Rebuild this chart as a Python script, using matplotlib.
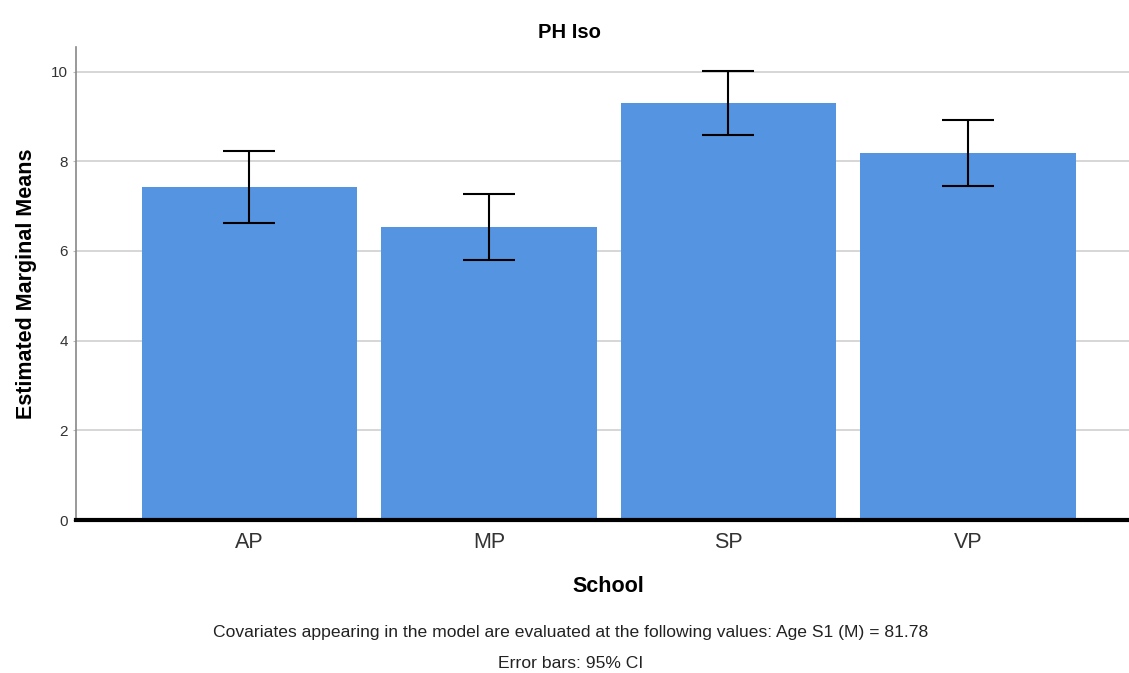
import matplotlib
matplotlib.use("Agg")
import matplotlib.pyplot as plt
from matplotlib import font_manager

categories = ["AP", "MP", "SP", "VP"]
means = [7.42, 6.53, 9.30, 8.19]
ci_upper = [8.23, 7.27, 10.01, 8.93]
ci_lower = [6.62, 5.80, 8.58, 7.46]
yticks = [0, 2, 4, 6, 8, 10]

plt.rcParams['font.family'] = ['Liberation Sans', 'DejaVu Sans']
names = {f.name for f in font_manager.fontManager.ttflist}
if 'Liberation Sans Narrow' in names:
    note_family = ['Liberation Sans Narrow', 'DejaVu Sans']
    note_size = 15
else:
    note_family = ['Liberation Sans', 'DejaVu Sans']
    note_size = 12.6

fig = plt.figure(figsize=(11.29, 6.73), dpi=100)
ax = fig.add_axes([76/1129, 1 - 520/673, 1 - 76/1129, (520 - 47)/673])

x = list(range(len(categories)))
err = [[m - l for m, l in zip(means, ci_lower)], [u - m for m, u in zip(means, ci_upper)]]
ax.bar(x, means, width=0.9, color="#5594E1", zorder=2)
ax.errorbar(x, means, yerr=err, fmt="none", ecolor="black", elinewidth=1.5,
            capsize=19, capthick=1.5, zorder=3)

ax.set_xlim(-0.724, 3.672)
ax.set_ylim(0, 10.55)
ax.set_yticks(yticks)
ax.set_yticklabels([str(t) for t in yticks], fontsize=11, color="#333333")
ax.set_xticks(x)
ax.set_xticklabels(categories, fontsize=15.5, color="#333333")
ax.tick_params(axis="x", length=0, pad=9)
ax.tick_params(axis="y", length=2, color="#bbbbbb", pad=4)
ax.yaxis.grid(True, color="#d0d0d0", linewidth=1.2, zorder=0)
ax.set_axisbelow(True)
for s in ["top", "right"]:
    ax.spines[s].set_visible(False)
ax.spines["left"].set_color("#888888")
ax.spines["left"].set_linewidth(1.2)
ax.spines["bottom"].set_color("black")
ax.spines["bottom"].set_linewidth(3)
ax.spines["bottom"].set_zorder(4)

ax.set_ylabel("Estimated Marginal Means", fontsize=15.5, fontweight="bold", labelpad=10)
fig.text(608/1129, 1 - 587/673, "School", ha="center", va="center", fontsize=15.5, fontweight="bold")
fig.text(569/1129, 1 - 32/673, "PH Iso", ha="center", va="center", fontsize=14.5, fontweight="bold")
fig.text(571/1129, 1 - 632/673,
         "Covariates appearing in the model are evaluated at the following values: Age S1 (M) = 81.78",
         ha="center", va="center", fontsize=note_size, color="#222222", family=note_family)
fig.text(571/1129, 1 - 664/673, "Error bars: 95% CI", ha="center", va="center",
         fontsize=note_size, color="#222222", family=note_family)

fig.savefig("out.png", dpi=100)
